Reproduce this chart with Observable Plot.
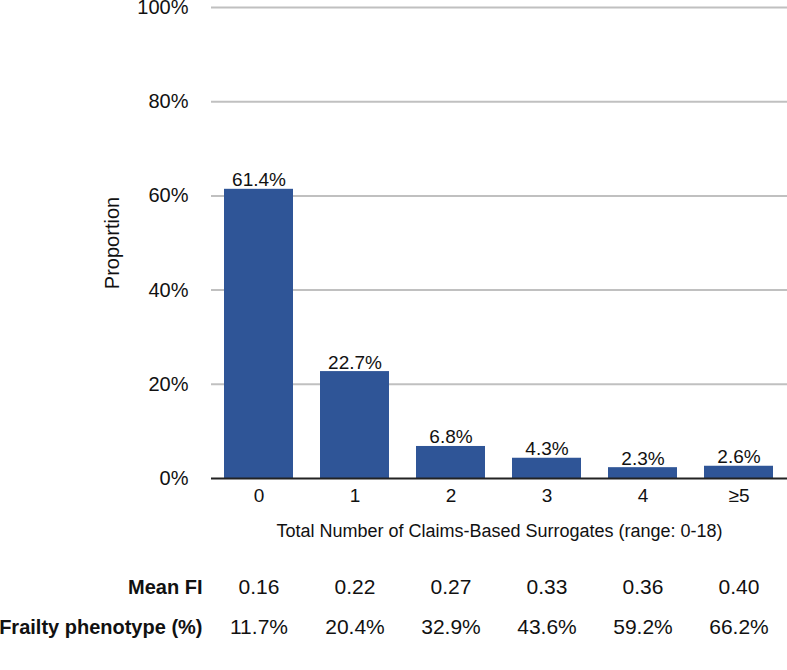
<!DOCTYPE html>
<html>
<head>
<meta charset="utf-8">
<script src="https://cdn.jsdelivr.net/npm/d3@7"></script>
<script src="https://cdn.jsdelivr.net/npm/@observablehq/plot@0.6"></script>
<style>
  html, body { margin: 0; padding: 0; background: #fff; }
  #chart svg { display: block; }
</style>
</head>
<body>
<div id="chart"></div>
<script>
const categories = ["0", "1", "2", "3", "4", "≥5"];
const proportions = [61.4, 22.7, 6.8, 4.3, 2.3, 2.6];
const meanFI = ["0.16", "0.22", "0.27", "0.33", "0.36", "0.40"];
const frailty = [11.7, 20.4, 32.9, 43.6, 59.2, 66.2];
const yTicks = [0, 20, 40, 60, 80, 100];
const gridTicks = [20, 40, 60, 80, 100];
const rowLabels = ["Mean FI", "Frailty phenotype (%)"];
const xTitle = "Total Number of Claims-Based Surrogates (range: 0-18)";
const yTitle = "Proportion";

const data = categories.map((c, i) => ({
  cat: c, value: proportions[i], fi: meanFI[i], frailty: frailty[i]
}));

const sans = "'Liberation Sans', Arial, sans-serif";

const chart = Plot.plot({
  width: 787,
  height: 670,
  marginTop: 7,
  marginBottom: 192,
  marginLeft: 211,
  marginRight: 0,
  style: { fontFamily: sans, fontSize: "18px", color: "#111", background: "#fff" },
  x: { domain: categories, paddingInner: 0.28, paddingOuter: 0.14, label: null },
  y: { domain: [0, 100], label: null },
  marks: [
    Plot.ruleY(gridTicks, { stroke: "#c0c0c0", strokeWidth: 2 }),
    Plot.barY(data, { x: "cat", y: "value", fill: "#2f5597" }),
    Plot.ruleY([0], { stroke: "#222", strokeWidth: 2 }),
    Plot.axisY({ ticks: yTicks, tickFormat: d => d + "%", tickSize: 0, tickPadding: 23, fontSize: 20, label: null }),
    Plot.axisX({ tickSize: 0, tickPadding: 10, fontSize: 19, label: null }),
    Plot.text(data, { x: "cat", y: "value", text: d => d.value.toFixed(1) + "%", lineAnchor: "bottom", dy: -3, fontSize: 19, fill: "#111" }),
    Plot.text([yTitle], { frameAnchor: "left", textAnchor: "middle", rotate: -90, dx: -99, fontSize: 20, fill: "#111" }),
    Plot.text([xTitle], { frameAnchor: "bottom", dy: 58, fontSize: 18, fill: "#111" }),
    Plot.text(data, { x: "cat", frameAnchor: "bottom", text: "fi", dy: 115, fontSize: 21, fill: "#111" }),
    Plot.text(data, { x: "cat", frameAnchor: "bottom", text: d => d.frailty.toFixed(1) + "%", dy: 155, fontSize: 21, fill: "#111" }),
    Plot.text([rowLabels[0]], { frameAnchor: "bottom-left", dx: -9, dy: 115, textAnchor: "end", fontSize: 20, fontWeight: "bold", fill: "#111" }),
    Plot.text([rowLabels[1]], { frameAnchor: "bottom-left", dx: -9, dy: 155, textAnchor: "end", fontSize: 20, fontWeight: "bold", fill: "#111" })
  ]
});
document.getElementById("chart").appendChild(chart);
</script>
</body>
</html>
